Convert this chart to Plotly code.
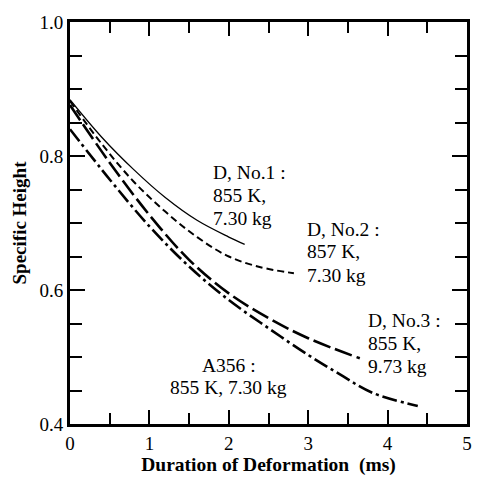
import plotly.graph_objects as go

# Data
d1_x = [0, 0.4, 0.8, 1.2, 1.6, 2.0, 2.2]
d1_y = [0.884, 0.828, 0.780, 0.738, 0.704, 0.679, 0.668]

d2_x = [0, 0.4, 0.8, 1.2, 1.6, 2.0, 2.4, 2.82]
d2_y = [0.882, 0.818, 0.762, 0.717, 0.679, 0.650, 0.634, 0.625]

d3_x = [0, 0.5, 1.0, 1.5, 2.0, 2.5, 3.0, 3.65]
d3_y = [0.876, 0.790, 0.712, 0.645, 0.595, 0.558, 0.528, 0.498]

a356_x = [0, 0.5, 1.0, 1.5, 2.0, 2.5, 3.0, 3.4, 3.8, 4.38]
a356_y = [0.840, 0.765, 0.695, 0.635, 0.585, 0.543, 0.503, 0.474, 0.447, 0.427]

x_ticks = [0, 1, 2, 3, 4, 5]
y_ticks = [0.4, 0.6, 0.8, 1.0]
y_tick_labels = ["0.4", "0.6", "0.8", "1.0"]

d1_label = ["D, No.1 :", "855 K,", "7.30 kg"]
d2_label = ["D, No.2 :", "857 K,", "7.30 kg"]
d3_label = ["D, No.3 :", "855 K,", "9.73 kg"]
a356_label = ["A356 :", "855 K, 7.30 kg"]

FONT = "Liberation Serif"

fig = go.Figure()
fig.add_trace(go.Scatter(x=d1_x, y=d1_y, mode="lines", line=dict(color="black", width=1.3, shape="spline")))
fig.add_trace(go.Scatter(x=d2_x, y=d2_y, mode="lines", line=dict(color="black", width=2, dash="7px,4px", shape="spline")))
fig.add_trace(go.Scatter(x=d3_x, y=d3_y, mode="lines", line=dict(color="black", width=2.6, dash="18px,5px", shape="spline")))
fig.add_trace(go.Scatter(x=a356_x, y=a356_y, mode="lines", line=dict(color="black", width=2.6, dash="15px,4px,3px,4px", shape="spline")))

W, H = 478, 479
L, R, T, B = 70, 6, 22, 55

label_blocks = [
    (d1_label, 213, [172, 195, 218], "left"),
    (d2_label, 308, [229, 252, 275], "left"),
    (d3_label, 370, [320, 343, 366], "left"),
    (a356_label, 231, [365, 387], "center"),
]
for lines, px, pys, xa in label_blocks:
    for text, py in zip(lines, pys):
        fig.add_annotation(
            x=(px - L) / (W - L - R), y=1 - (py - T) / (H - T - B),
            xref="paper", yref="paper", text=text, showarrow=False,
            xanchor=xa, yanchor="middle",
            font=dict(family=FONT, size=19.5, color="black"),
        )

fig.update_layout(
    width=W, height=H,
    margin=dict(l=L, r=R, t=T, b=B),
    paper_bgcolor="white", plot_bgcolor="white",
    showlegend=False,
    font=dict(family=FONT, color="black"),
)
fig.update_xaxes(
    range=[0, 5], tickvals=x_ticks, ticks="inside", ticklen=14, tickwidth=2,
    tickcolor="black", showline=True, linewidth=3, linecolor="black", mirror="ticks",
    showgrid=False, zeroline=False, ticklabeloverflow="allow",
    tickfont=dict(family=FONT, size=19),
    minor=dict(dtick=0.5, ticks="inside", ticklen=11, tickwidth=2, tickcolor="black", showgrid=False),
    title=dict(text="<b>Duration of Deformation  (ms)</b>", font=dict(family=FONT, size=19.5), standoff=2),
)
fig.update_yaxes(
    range=[0.4, 1.0], tickvals=y_ticks, ticktext=y_tick_labels, ticks="inside", ticklen=15, tickwidth=2,
    tickcolor="black", showline=True, linewidth=3, linecolor="black", mirror="ticks",
    showgrid=False, zeroline=False, ticklabeloverflow="allow",
    tickfont=dict(family=FONT, size=19),
    minor=dict(dtick=0.05, ticks="inside", ticklen=12, tickwidth=2, tickcolor="black", showgrid=False),
    title=dict(text="<b>Specific Height</b>", font=dict(family=FONT, size=19), standoff=8),
)

fig.write_html(
    "out.html",
    config={"displayModeBar": False},
    post_script="document.body.style.margin='0';document.body.style.overflow='hidden';",
)
